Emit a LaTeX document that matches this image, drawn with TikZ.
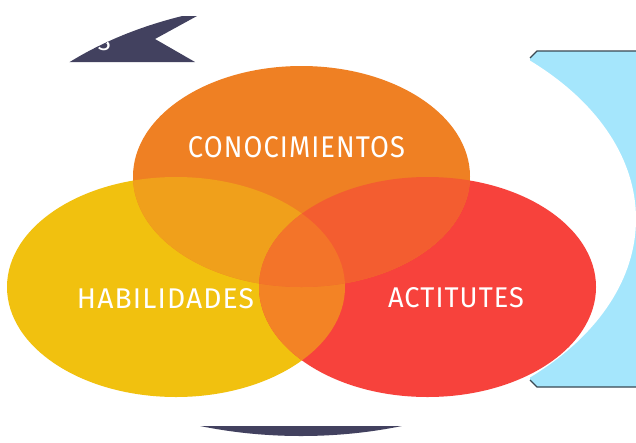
\documentclass[tikz,border=0pt]{standalone}
\usepackage{fontspec}
\setmainfont{Fira Sans}
\usepackage{graphicx}
\definecolor{navy}{HTML}{42415F}
\definecolor{skyb}{HTML}{A5E6FC}
\definecolor{edgec}{HTML}{3A4852}
\definecolor{yel}{HTML}{F1C10F}
\definecolor{ora}{HTML}{EF8023}
\definecolor{redc}{HTML}{F7423C}
\definecolor{yo}{HTML}{F0A01B}
\definecolor{ro}{HTML}{F35D30}
\definecolor{yr}{HTML}{F38325}
\definecolor{yor}{HTML}{F37429}
\newcommand{\spaced}[1]{{\addfontfeatures{LetterSpace=4}#1}}
\begin{document}
\begin{tikzpicture}[x=1pt,y=-1pt,
  lbl/.style={text=white, inner sep=0pt, anchor=center},
  edgeline/.style={draw=edgec, line width=1.2pt},
  bigell/.style={x radius=335, y radius=217},
  yell/.style={x radius=169, y radius=110},
  rell/.style={x radius=168.5, y radius=110},
  oell/.style={x radius=168.5, y radius=110.5}]
\useasboundingbox (0,0) rectangle (636,442);
\fill[white] (0,0) rectangle (636,442);
% light blue panel on the right
\fill[skyb] (537,51) -- (636,51) -- (636,387) -- (537,387) -- (530,380) -- (530,58) -- cycle;
\draw[edgeline] (530,58) -- (537,51) -- (636,51);
\draw[edgeline] (530,380) -- (537,387) -- (636,387);
% big white ellipse
\fill[white] (301,219) ellipse [bigell];
% navy shapes inside the big ellipse
\begin{scope}
  \clip (301,219) ellipse [bigell];
  \fill[navy] (30,62) -- (195,62) -- (155,39) -- (197,16) -- (30,16) -- cycle;
  \node[text=white, inner sep=0pt, anchor=base east, font=\fontsize{24}{24}\selectfont] (s) at (111,50) {S};
  \fill[navy] (150,426) rectangle (450,450);
\end{scope}
% Venn ellipses
\fill[yel] (176,287) ellipse [yell];
\fill[redc] (427.5,287) ellipse [rell];
\fill[ora] (301.5,176.5) ellipse [oell];
\begin{scope}
  \clip (176,287) ellipse [yell];
  \fill[yr] (427.5,287) ellipse [rell];
  \fill[yo] (301.5,176.5) ellipse [oell];
\end{scope}
\begin{scope}
  \clip (427.5,287) ellipse [rell];
  \fill[ro] (301.5,176.5) ellipse [oell];
\end{scope}
\begin{scope}
  \clip (176,287) ellipse [yell];
  \clip (427.5,287) ellipse [rell];
  \fill[yor] (301.5,176.5) ellipse [oell];
\end{scope}
% labels
\node[lbl] (con) at (296.5,147.5) {\resizebox{217pt}{21pt}{\spaced{CONOCIMIENTOS}}};
\node[lbl] (hab) at (165.5,299) {\resizebox{177pt}{20pt}{\spaced{HABILIDADES}}};
\node[lbl] (act) at (456,298) {\resizebox{136pt}{20pt}{\spaced{ACTITUTES}}};
\end{tikzpicture}
\end{document}
